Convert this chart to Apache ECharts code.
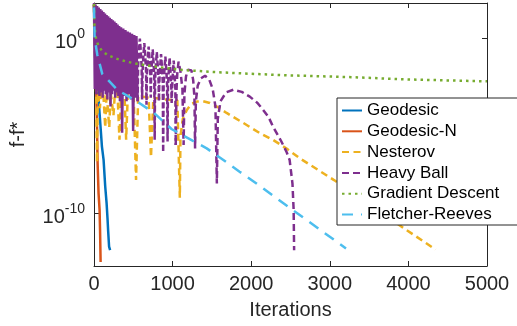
<!DOCTYPE html>
<html>
<head>
<meta charset="utf-8">
<script src="https://cdn.jsdelivr.net/npm/echarts@6/dist/echarts.min.js"></script>
<style>
html, body { margin: 0; padding: 0; background: #fff; }
#chart { width: 517px; height: 326px; }
</style>
</head>
<body>
<div id="chart"></div>
<script>
// values are [iteration, log10(f - f*)]
var geodesic = [[0,1.9],[30,-1.5],[60,-3.6],[80,-4.86],[101,-6.19],[122,-6.95],[143,-8.48],[160,-9.4],[172,-10.3],[180,-11.0],[192,-11.9],[205,-12.1]];
var geodesicN = [[0,1.9],[20,-1.0],[38,-5.0],[46,-7.14],[58,-8.86],[71,-9.8],[77,-10.95],[84,-12.77]];
var nesterov = [[0,1.9],[15,-1.5],[28,-3.1],[38,-7.1],[48,-3.1],[62,-3.0],[75,-4.0],[88,-3.1],[118,-3.1],[143,-5.1],[160,-3.1],[177,-3.15],[194,-5.1],[212,-3.1],[232,-3.2],[248,-4.4],[266,-3.1],[300,-3.2],[324,-5.8],[345,-3.15],[388,-3.2],[409,-5.8],[430,-3.2],[505,-3.3],[535,-8.1],[562,-3.3],[695,-3.4],[725,-6.8],[755,-3.4],[900,-3.5],[1060,-3.55],[1092,-9.1],[1100,-5.6],[1130,-4.6],[1181,-4.1],[1240,-3.75],[1308,-3.62],[1390,-3.6],[1473,-3.7],[1580,-3.95],[1687,-4.27],[1899,-4.84],[2105,-5.41],[2278,-5.81],[2450,-6.3],[2615,-6.85],[3054,-8.1],[3500,-9.45],[3941,-10.84],[4346,-12.06]];
// heavy ball in three parts: dense start (solid block), tight oscillations, wide arches
var heavyBallEarly = [[0,2.0],[10,-2.9],[20,1.92],[30,-3.2],[40,1.83],[50,-3.0],[60,1.74],[70,-3.3],[80,1.66],[90,-3.1],[100,1.57],[110,-3.4],[120,1.49],[130,-3.0],[140,1.40],[150,-3.2],[160,1.32],[170,-3.5],[180,1.24],[190,-3.1],[200,1.16],[210,-3.9],[220,1.09],[230,-3.2],[240,1.02],[250,-3.0],[260,0.95],[270,-3.4],[280,0.86],[290,-3.1],[300,0.77],[310,-3.3],[320,0.69],[330,-3.6],
  [344,0.62],[358,-5.4],[372,0.54],[386,-3.3],[400,0.46],[414,-3.6],[428,0.38],[442,-3.2],[456,0.31],[470,-3.5],[484,0.24],[498,-5.3],[512,0.17],[526,-3.4],[540,0.11],[555,-3.6]];
var heavyBallMid = [[555,-3.6],
  [561,-1.63],[572,-0.72],[583,-0.03],[595,-0.72],[606,-1.63],[612,-3.5],
  [618,-1.88],[629,-0.97],[640,-0.28],[651,-0.97],[662,-1.88],[668,-3.8],
  [673,-2.08],[684,-1.17],[695,-0.48],[706,-1.17],[717,-2.08],[722,-3.4],
  [727,-2.24],[737,-1.33],[747,-0.64],[757,-1.33],[767,-2.24],[772,-5.8],
  [777,-2.4],[788,-1.49],[799,-0.8],[810,-1.49],[821,-2.4],[826,-3.6],
  [831,-2.52],[842,-1.61],[853,-0.92],[864,-1.61],[875,-2.52],[880,-6.5],
  [886,-2.65],[897,-1.74],[908,-1.05],[919,-1.74],[930,-2.65],[936,-5.9],
  [941,-2.73],[952,-1.82],[962,-1.13],[972,-1.82],[983,-2.73],[988,-3.7],
  [993,-2.88],[1004,-1.97],[1014,-1.28],[1024,-1.97],[1035,-2.88],[1040,-6.1]];
var heavyBallLate = [[1040,-6.1],
  [1050,-2.94],[1060,-2.0],[1076,-1.34],[1100,-1.9],[1125,-2.9],[1140,-6.1],
  [1150,-3.2],[1170,-2.2],[1195,-1.8],[1215,-1.71],[1240,-1.85],[1262,-2.4],[1278,-3.4],[1286,-6.3],
  [1296,-3.6],[1320,-2.7],[1360,-2.3],[1413,-2.15],[1465,-2.35],[1510,-2.9],[1545,-3.9],[1563,-8.3],
  [1575,-4.6],[1610,-3.6],[1680,-3.1],[1772,-2.95],[1880,-3.07],[1982,-3.34],[2080,-3.7],[2152,-4.1],[2220,-4.5],[2278,-5.05],[2384,-5.9],[2450,-6.5],[2489,-6.95],[2525,-8.3],[2540,-9.8],[2546,-12.1]];
var gradientDescent = [[0,1.95],[5,0.8],[20,0.1],[42,-0.27],[63,-0.48],[100,-0.72],[168,-0.95],[250,-1.12],[333,-1.24],[440,-1.37],[548,-1.47],[763,-1.62],[1092,-1.81],[1500,-1.93],[2004,-2.04],[2500,-2.13],[3272,-2.23],[4000,-2.36],[5000,-2.47]];
var fletcherReeves = [[0,1.75],[8,0.0],[42,-0.95],[105,-2.04],[295,-2.95],[535,-3.58],[763,-4.27],[990,-5.2],[1434,-6.29],[1646,-6.95],[1852,-7.62],[2067,-8.29],[2320,-9.13],[3206,-12.0]];

var names = ['Geodesic', 'Geodesic-N', 'Nesterov', 'Heavy Ball', 'Gradient Descent', 'Fletcher-Reeves'];
var xTicks = [0, 1000, 2000, 3000, 4000, 5000];
var yTickExps = [-10, 0];

var font = 'Liberation Sans, Arial, Helvetica, sans-serif';
var axisColor = '#262626';

function toValues(pts) {
    return pts.map(function (p) { return [p[0], Math.pow(10, p[1])]; });
}
var yTicks = yTickExps.map(function (e) { return Math.pow(10, e); });

function line(name, pts, color, type, width) {
    return {
        name: name,
        type: 'line',
        data: toValues(pts),
        symbol: 'none',
        lineStyle: { color: color, width: width, type: type },
        itemStyle: { color: color },
        silent: true
    };
}

var myChart = echarts.init(document.getElementById('chart'));
var option = {
    animation: false,
    grid: { left: 92, right: 30, top: 3, bottom: 60 },
    legend: {
        orient: 'vertical',
        left: 337,
        top: 98,
        itemWidth: 20,
        itemHeight: 14,
        itemGap: 3.8,
        padding: [4, 24, 2, 4],
        borderColor: axisColor,
        borderWidth: 1,
        backgroundColor: '#fff',
        itemStyle: { opacity: 0 },
        textStyle: { fontSize: 17, color: '#000', fontFamily: font },
        data: names
    },
    xAxis: [
        {
            type: 'value', min: xTicks[0], max: xTicks[xTicks.length - 1], interval: 1000,
            position: 'bottom',
            axisLine: { onZero: false, lineStyle: { color: axisColor, width: 1 } },
            axisTick: { inside: true, length: 5, lineStyle: { color: axisColor } },
            axisLabel: {
                fontSize: 20, color: axisColor, fontFamily: font, margin: 8,
                formatter: function (v) { return String(v); }
            },
            splitLine: { show: false },
            name: 'Iterations', nameLocation: 'middle', nameGap: 34,
            nameTextStyle: { fontSize: 20, color: axisColor, fontFamily: font }
        },
        {
            type: 'value', min: xTicks[0], max: xTicks[xTicks.length - 1], interval: 1000,
            position: 'top',
            axisLine: { onZero: false, lineStyle: { color: axisColor, width: 1 } },
            axisTick: { inside: true, length: 5, lineStyle: { color: axisColor } },
            axisLabel: { show: false },
            splitLine: { show: false }
        }
    ],
    yAxis: [
        {
            type: 'log', logBase: 10, min: 1e-13, max: 1e2,
            position: 'left',
            axisLine: { show: true, onZero: false, lineStyle: { color: axisColor, width: 1 } },
            axisTick: { inside: true, length: 5, customValues: yTicks, lineStyle: { color: axisColor } },
            minorTick: { show: false },
            axisLabel: {
                customValues: yTicks,
                margin: 9,
                padding: [8, 0, 0, 0],
                formatter: function (v) {
                    return '{b|10}{s|' + Math.round(Math.log10(v)) + '}';
                },
                rich: {
                    b: { fontSize: 20, lineHeight: 30, color: axisColor, fontFamily: font },
                    s: { fontSize: 14, lineHeight: 14, verticalAlign: 'top', color: axisColor, fontFamily: font }
                }
            },
            splitLine: { show: false },
            name: 'f-f*', nameLocation: 'middle', nameGap: 66,
            nameTextStyle: { fontSize: 20, color: axisColor, fontFamily: font }
        },
        {
            type: 'log', logBase: 10, min: 1e-13, max: 1e2,
            position: 'right',
            axisLine: { show: true, onZero: false, lineStyle: { color: axisColor, width: 1 } },
            axisTick: { inside: true, length: 5, customValues: yTicks, lineStyle: { color: axisColor } },
            minorTick: { show: false },
            axisLabel: { show: false },
            splitLine: { show: false }
        }
    ],
    series: [
        line(names[0], geodesic, '#0072BD', 'solid', 2.5),
        line(names[1], geodesicN, '#D95319', 'solid', 2.5),
        line(names[2], nesterov, '#EDB120', [7, 4.5], 2.5),
        line(names[3], heavyBallLate, '#7E2F8E', [7, 4], 2.5),
        line(names[3], heavyBallMid, '#7E2F8E', [6, 2.5], 2.5),
        line(names[3], heavyBallEarly, '#7E2F8E', 'solid', 2.5),
        line(names[4], gradientDescent, '#77AC30', [2.5, 4], 2.5),
        line(names[5], fletcherReeves, '#4DBEEE', [11, 8], 2.5)
    ]
};
myChart.setOption(option, true);
</script>
</body>
</html>
